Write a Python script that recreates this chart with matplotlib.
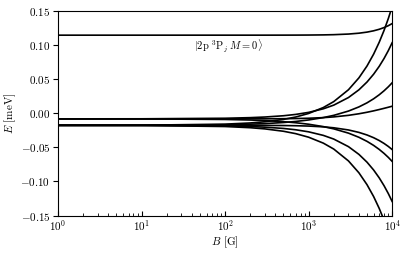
import matplotlib
matplotlib.use('Agg')
import matplotlib.pyplot as plt

plt.rcParams['font.family'] = 'serif'
plt.rcParams['font.serif'] = ['cmr10']
plt.rcParams['mathtext.fontset'] = 'cm'
plt.rcParams['axes.formatter.use_mathtext'] = True
plt.rcParams['axes.unicode_minus'] = True

# Magnetfeld [G]
B = [1, 10, 100, 200, 300, 500, 700, 1000, 1500, 2000, 3000, 4000,
     5000, 6000, 7000, 8000, 9000, 10000]

# Energie [meV], jedna hladina na seznam
E_j0 = [0.11414, 0.11414, 0.11415, 0.11415, 0.11416, 0.11419, 0.11423, 0.11433, 0.11455,
        0.11487, 0.11577, 0.11703, 0.11861, 0.12053, 0.12275, 0.12526, 0.12804, 0.13108]
E_m2_up = [-0.01780, -0.01765, -0.01608, -0.01435, -0.01261, -0.00914, -0.00566, -0.00046, 0.00823,
           0.01691, 0.03427, 0.05164, 0.06901, 0.08637, 0.10374, 0.12110, 0.13847, 0.15583]
E_m1_a = [-0.00834, -0.00826, -0.00747, -0.00657, -0.00566, -0.00379, -0.00185, 0.00115, 0.00637,
          0.01176, 0.02286, 0.03416, 0.04556, 0.05701, 0.06850, 0.08001, 0.09154, 0.10307]
E_m1_b = [-0.01781, -0.01773, -0.01696, -0.01612, -0.01530, -0.01370, -0.01216, -0.00995, -0.00649,
          -0.00320, 0.00307, 0.00914, 0.01510, 0.02101, 0.02689, 0.03275, 0.03859, 0.04442]
E_m0_a = [-0.00835, -0.00835, -0.00834, -0.00831, -0.00826, -0.00811, -0.00788, -0.00745, -0.00654,
          -0.00547, -0.00319, -0.00089, 0.00131, 0.00337, 0.00529, 0.00705, 0.00866, 0.01014]
E_m0_b = [-0.01782, -0.01782, -0.01783, -0.01787, -0.01793, -0.01811, -0.01838, -0.01890, -0.02004,
          -0.02142, -0.02460, -0.02816, -0.03194, -0.03592, -0.04006, -0.04433, -0.04873, -0.05323]
E_mm1_a = [-0.00836, -0.00843, -0.00921, -0.01005, -0.01087, -0.01247, -0.01401, -0.01621, -0.01968,
           -0.02297, -0.02924, -0.03531, -0.04127, -0.04718, -0.05306, -0.05891, -0.06475, -0.07058]
E_mm1_b = [-0.01783, -0.01791, -0.01870, -0.01959, -0.02051, -0.02238, -0.02431, -0.02732, -0.03253,
           -0.03793, -0.04902, -0.06032, -0.07172, -0.08318, -0.09467, -0.10618, -0.11770, -0.12924]
E_m2_down = [-0.01784, -0.01799, -0.01956, -0.02129, -0.02303, -0.02650, -0.02998, -0.03519, -0.04387,
             -0.05255, -0.06992, -0.08728, -0.10465, -0.12201, -0.13938, -0.15674, -0.17411, -0.19147]

levels = [E_j0, E_m2_up, E_m1_a, E_m1_b, E_m0_a, E_m0_b, E_mm1_a, E_mm1_b, E_m2_down]

fig = plt.figure(figsize=(4.07, 2.54), dpi=100)
ax = fig.add_axes([0.1425, 0.151, 0.821, 0.807])

for E in levels:
    ax.plot(B, E, color='black', linewidth=1.2)

ax.set_xscale('log')
ax.set_xlim(1, 1e4)
ax.set_ylim(-0.15, 0.15)
ax.set_yticks([-0.15, -0.10, -0.05, 0.00, 0.05, 0.10, 0.15])
ax.set_yticklabels([r'$-0.15$', r'$-0.10$', r'$-0.05$', r'$0.00$', r'$0.05$', r'$0.10$', r'$0.15$'])
ax.tick_params(axis='both', labelsize=8)
ax.tick_params(axis='x', which='both', direction='in', pad=2)
ax.tick_params(axis='y', direction='out', pad=2)
ax.set_xlabel(r'$B$ [G]', fontsize=8, labelpad=1)
ax.set_ylabel(r'$E$ [meV]', fontsize=8, labelpad=2)

ax.text(110, 0.099, r'$|2\mathrm{p}\ ^3\mathrm{P}_j\ M=0\rangle$', fontsize=7.5, ha='center', va='center')

fig.savefig('out.png', dpi=100)
